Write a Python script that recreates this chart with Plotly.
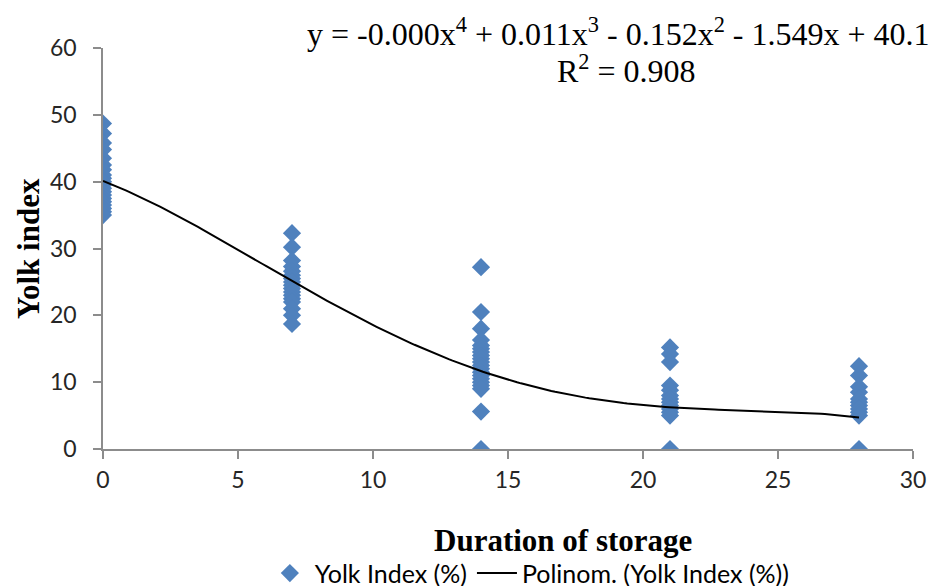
import numpy as np
import plotly.graph_objects as go

# Storage duration (days) and yolk index readings per day
days = [0, 7, 14, 21, 28]
yolk_day0 = [48.7, 47.2, 45.8, 44.8, 43.5, 42.5, 41.8, 41.0, 40.5, 40.0, 39.5, 39.0,
             38.5, 38.0, 37.5, 37.0, 36.5, 36.0, 35.5, 35.0]
yolk_day7 = [32.3, 30.2, 28.2, 27.3, 26.6, 26.0, 25.5, 25.0, 24.5, 24.0, 23.5, 23.0,
             22.5, 22.0, 21.0, 20.0, 18.7]
yolk_day14 = [27.2, 20.5, 18.0, 16.3, 15.5, 15.0, 14.5, 14.0, 13.5, 13.0, 12.5, 12.0,
              11.5, 11.0, 10.5, 10.0, 9.5, 9.0, 5.6, 0.0]
yolk_day21 = [15.2, 14.2, 13.0, 9.5, 8.8, 8.0, 7.5, 7.0, 6.5, 6.0, 5.5, 5.0, 0.0]
yolk_day28 = [12.4, 11.0, 9.3, 8.5, 7.5, 7.0, 6.5, 6.0, 5.5, 5.0, 0.0]
yolk_groups = [yolk_day0, yolk_day7, yolk_day14, yolk_day21, yolk_day28]

# Trendline polynomial coefficients (highest power first), as shown in the chart equation
poly_coeffs = [-0.000186, 0.011, -0.152, -1.549, 40.10]
x_ticks = [0, 5, 10, 15, 20, 25, 30]
y_ticks = [0, 10, 20, 30, 40, 50, 60]

xs, ys = [], []
for d, vals in zip(days, yolk_groups):
    xs += [d] * len(vals)
    ys += vals

fig = go.Figure()
fig.add_trace(go.Scatter(
    x=xs, y=ys, mode="markers", name="Yolk Index (%)",
    marker=dict(symbol="diamond", size=14, color="#4F81BD", line=dict(width=0)),
))
xt = np.linspace(days[0], days[-1], 200)
fig.add_trace(go.Scatter(
    x=xt, y=np.polyval(poly_coeffs, xt), mode="lines",
    name="Polinom. (Yolk Index (%))", line=dict(color="black", width=2),
))

axis_common = dict(
    showgrid=False, zeroline=False, showline=True, linecolor="#8C8C8C", linewidth=1.5,
    ticks="outside", ticklen=8, tickcolor="#8C8C8C", tickwidth=1.5, automargin=False,
    tickfont=dict(family="Lato, Liberation Sans, Arial", size=23, color="#262626"),
)
fig.update_xaxes(range=[0, 30], tickvals=x_ticks, ticklabelstandoff=2, **axis_common)
fig.update_yaxes(range=[0, 60], tickvals=y_ticks, ticklabelstandoff=12, **axis_common)

serif = "Liberation Serif, Times New Roman"
fig.add_annotation(
    xref="paper", yref="paper", x=0.568, y=-0.227, xanchor="center", yanchor="middle",
    text="<b>Duration of storage</b>", showarrow=False,
    font=dict(family=serif, size=31, color="black"),
)
fig.add_annotation(
    xref="paper", yref="paper", x=-0.092, y=0.5, xanchor="center", yanchor="middle",
    text="<b>Yolk index</b>", showarrow=False, textangle=-90,
    font=dict(family=serif, size=31, color="black"),
)
fig.add_annotation(
    xref="paper", yref="paper", x=0.646, y=1.04, xanchor="center", yanchor="middle",
    text="y = -0.000x<sup>4</sup> + 0.011x<sup>3</sup> - 0.152x<sup>2</sup> - 1.549x + 40.10",
    showarrow=False, align="center",
    font=dict(family=serif, size=32, color="black"),
)
fig.add_annotation(
    xref="paper", yref="paper", x=0.646, y=0.948, xanchor="center", yanchor="middle",
    text="R<sup>2</sup> = 0.908",
    showarrow=False, align="center",
    font=dict(family=serif, size=32, color="black"),
)

fig.update_layout(
    width=937, height=586,
    margin=dict(l=95, r=32, t=40, b=145, autoexpand=False),
    paper_bgcolor="white", plot_bgcolor="white",
    showlegend=True,
    legend=dict(orientation="h", x=0.527, xanchor="center", y=-0.31, yanchor="middle",
                font=dict(family="Lato, Liberation Sans, Arial", size=25, color="black"),
                itemwidth=40, traceorder="normal"),
)

fig.write_html("out.html")
